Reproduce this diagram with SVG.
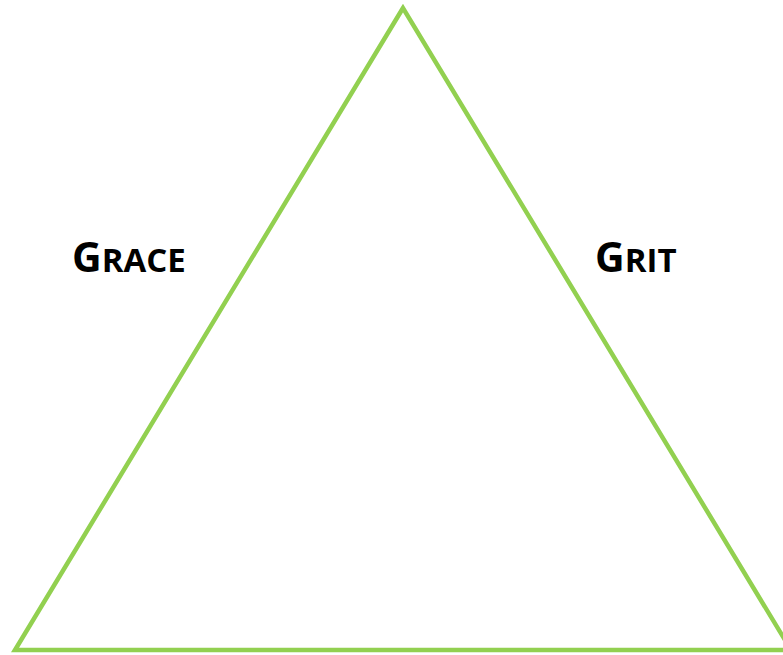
<svg xmlns="http://www.w3.org/2000/svg" width="783" height="655" viewBox="0 0 783 655">
<style>
.edge{fill:none;stroke:#92d050;stroke-width:4.5;stroke-linejoin:miter}
.lbl{font-family:"Open Sans","Noto Sans",sans-serif;font-weight:bold;fill:#000}
.big{font-size:41px}
.sm{font-size:33px}
</style>
<rect width="783" height="655" fill="#fff"/>
<g id="triangle">
<polygon class="edge" points="403,8 15,650 791,650"/>
</g>
<g id="grace">
<text class="lbl" x="72" y="272"><tspan class="big">G</tspan><tspan class="sm">RACE</tspan></text>
</g>
<g id="grit">
<text class="lbl" x="595" y="272"><tspan class="big">G</tspan><tspan class="sm">RIT</tspan></text>
</g>
<g id="connectors"></g>
</svg>
